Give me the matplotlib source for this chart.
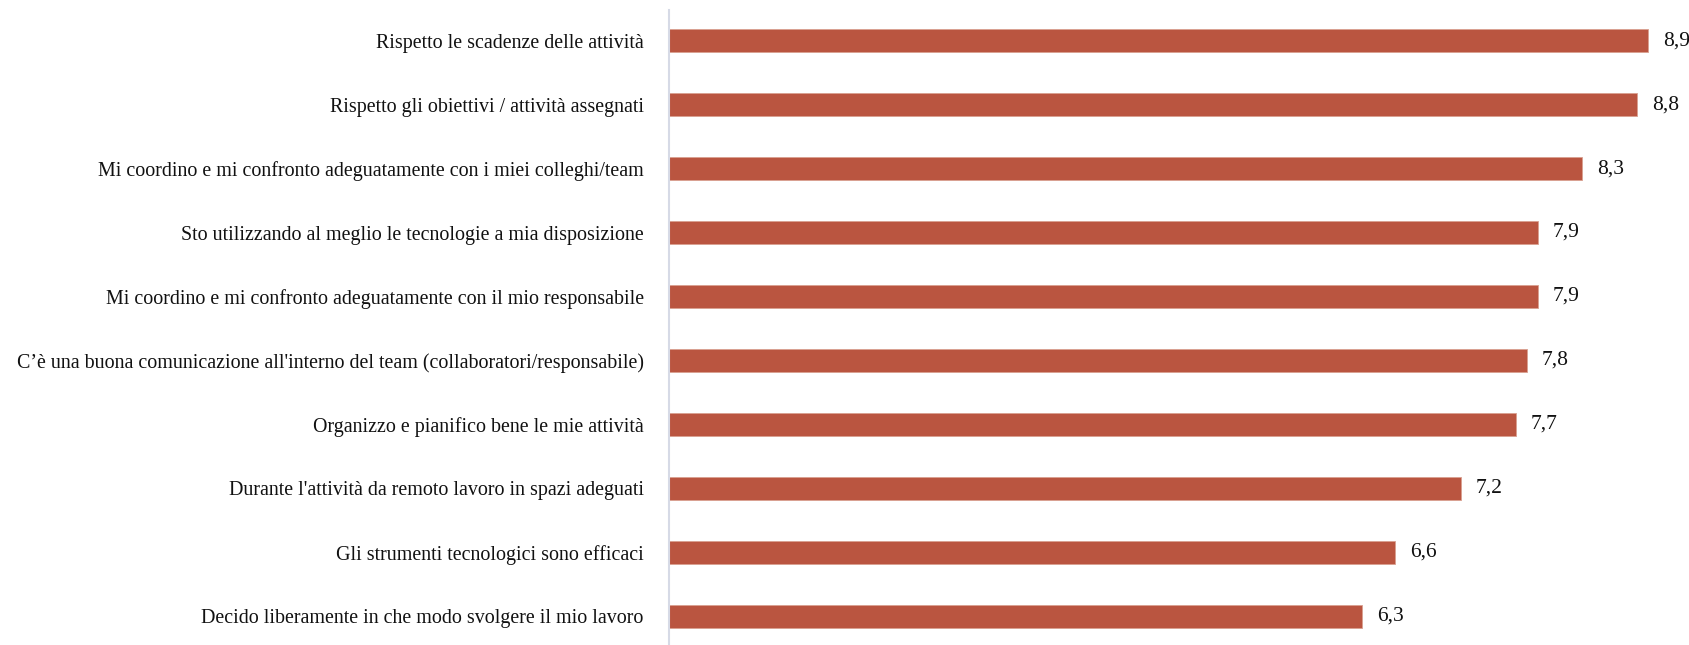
import matplotlib.pyplot as plt

plt.rcParams['font.family'] = ['Liberation Serif', 'DejaVu Serif']

voci = [
    "Rispetto le scadenze delle attività",
    "Rispetto gli obiettivi / attività assegnati",
    "Mi coordino e mi confronto adeguatamente con i miei colleghi/team",
    "Sto utilizzando al meglio le tecnologie a mia disposizione",
    "Mi coordino e mi confronto adeguatamente con il mio responsabile",
    "C’è una buona comunicazione all'interno del team (collaboratori/responsabile)",
    "Organizzo e pianifico bene le mie attività",
    "Durante l'attività da remoto lavoro in spazi adeguati",
    "Gli strumenti tecnologici sono efficaci",
    "Decido liberamente in che modo svolgere il mio lavoro",
]
punteggi = [8.9, 8.8, 8.3, 7.9, 7.9, 7.8, 7.7, 7.2, 6.6, 6.3]

fig = plt.figure(figsize=(16.89, 6.45), dpi=100)
ax = fig.add_axes([0.396, 0.0, 0.599, 0.9845])

pos = range(len(voci))
ax.barh(pos, punteggi, height=0.36, color='#BA5540',
        edgecolor='#d9a090', linewidth=0.6)

for y, v in zip(pos, punteggi):
    ax.text(v + 0.14, y, f"{v:.1f}".replace('.', ','), va='center',
            ha='left', fontsize=15.5, color='#111111')

ax.set_yticks(list(pos))
ax.set_yticklabels(voci, fontsize=14.4, color='#111111')
ax.tick_params(axis='y', length=0, pad=18)
ax.set_ylim(len(voci) - 0.55, -0.48)
ax.set_xlim(0, 9.2)
ax.set_xticks([])

for s in ['top', 'right', 'bottom']:
    ax.spines[s].set_visible(False)
ax.spines['left'].set_color('#d6dae6')
ax.spines['left'].set_linewidth(1.5)

fig.savefig('out.png', dpi=100)
